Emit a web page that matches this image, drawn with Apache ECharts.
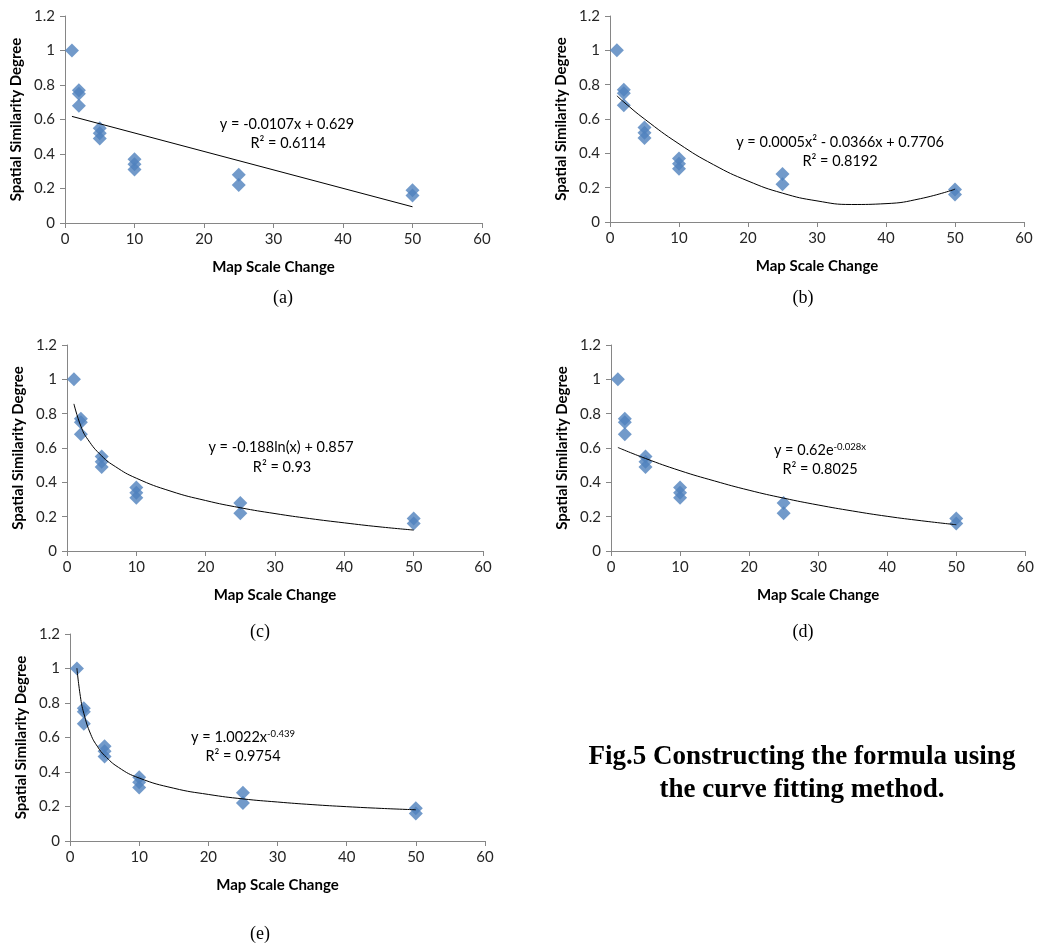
<!DOCTYPE html>
<html>
<head>
<meta charset="utf-8">
<script src="https://cdn.jsdelivr.net/npm/echarts@6/dist/echarts.min.js"></script>
<style>
  html, body { margin: 0; padding: 0; background: #fff; }
  #main { width: 1037px; height: 945px; }
</style>
</head>
<body>
<div id="main"></div>
<script>
// measured points (same data in every panel)
const scaleChange = [1, 2, 2, 2, 5, 5, 5, 10, 10, 10, 25, 25, 50, 50];
const similarity = [1.0, 0.77, 0.75, 0.68, 0.55, 0.52, 0.49, 0.37, 0.34, 0.31, 0.28, 0.22, 0.19, 0.16];

// trendlines
const linX = [1, 50];
const linY = [0.618, 0.094];
const polyX = [1, 2, 5, 10, 15, 20, 25, 30, 35, 40, 45, 50];
const polyY = [0.735, 0.699, 0.600, 0.455, 0.334, 0.239, 0.168, 0.123, 0.102, 0.107, 0.136, 0.191];
const logX = [1, 2, 3, 5, 7, 10, 15, 20, 25, 30, 35, 40, 45, 50];
const logY = [0.857, 0.727, 0.650, 0.554, 0.491, 0.424, 0.348, 0.294, 0.252, 0.218, 0.189, 0.164, 0.141, 0.122];
const expX = [1, 5, 10, 15, 20, 25, 30, 35, 40, 45, 50];
const expY = [0.603, 0.539, 0.468, 0.408, 0.354, 0.308, 0.268, 0.233, 0.202, 0.176, 0.153];
const powX = [1, 1.5, 2, 3, 4, 5, 7, 10, 15, 20, 25, 30, 35, 40, 45, 50];
const powY = [1.002, 0.838, 0.740, 0.618, 0.546, 0.496, 0.427, 0.365, 0.306, 0.270, 0.244, 0.226, 0.211, 0.199, 0.189, 0.181];

const xTicks = [0, 10, 20, 30, 40, 50, 60];
const yTicks = [0, 0.2, 0.4, 0.6, 0.8, 1, 1.2];

const chart = echarts.init(document.getElementById('main'));

const FONT = 'Lato';
const AXIS_COLOR = '#868686';

// panel boxes
const panels = [
  { left: 65, top: 16, width: 417, height: 207, fx: linX, fy: linY, smooth: false },
  { left: 610, top: 16, width: 414, height: 206, fx: polyX, fy: polyY, smooth: true },
  { left: 67, top: 345, width: 416, height: 206, fx: logX, fy: logY, smooth: true },
  { left: 611, top: 345, width: 415, height: 206, fx: expX, fy: expY, smooth: true },
  { left: 70, top: 634, width: 415, height: 207, fx: powX, fy: powY, smooth: true }
];

const zip = (a, b) => a.map((v, i) => [v, b[i]]);

const grids = [], xAxes = [], yAxes = [], series = [];
panels.forEach((p, i) => {
  grids.push({ left: p.left, top: p.top, width: p.width, height: p.height });
  xAxes.push({
    type: 'value', gridIndex: i, min: xTicks[0], max: xTicks[xTicks.length - 1], interval: 10,
    name: 'Map Scale Change', nameLocation: 'middle', nameGap: 37,
    nameTextStyle: { fontFamily: FONT, fontWeight: 'bold', fontSize: 15, color: '#000' },
    axisLine: { lineStyle: { color: AXIS_COLOR } },
    axisTick: { show: true, length: 5, lineStyle: { color: AXIS_COLOR } },
    axisLabel: { fontFamily: FONT, fontSize: 15, color: '#262626', margin: 9 },
    splitLine: { show: false }
  });
  yAxes.push({
    type: 'value', gridIndex: i, min: yTicks[0], max: yTicks[yTicks.length - 1], interval: 0.2,
    name: 'Spatial Similarity Degree', nameLocation: 'middle', nameGap: 41,
    nameTextStyle: { fontFamily: FONT, fontWeight: 'bold', fontSize: 15, color: '#000' },
    axisLine: { show: true, lineStyle: { color: AXIS_COLOR } },
    axisTick: { show: true, length: 5, lineStyle: { color: AXIS_COLOR } },
    axisLabel: { fontFamily: FONT, fontSize: 15, color: '#262626', margin: 10 },
    splitLine: { show: false }
  });
  series.push({
    type: 'scatter', xAxisIndex: i, yAxisIndex: i,
    symbol: 'diamond', symbolSize: [14, 14],
    itemStyle: { color: '#4F81BD' },
    data: zip(scaleChange, similarity), z: 2
  });
  series.push({
    type: 'line', xAxisIndex: i, yAxisIndex: i,
    smooth: p.smooth ? 0.5 : false, showSymbol: false, symbol: 'none',
    lineStyle: { color: '#000', width: 1 },
    data: zip(p.fx, p.fy), z: 3
  });
});

const eqStyle = { fontFamily: FONT, fontSize: 14.5, fill: '#000' };
const sup = { fontFamily: FONT, fontSize: 9.5, verticalAlign: 'top', padding: [0, 0, 6, 0] };
const base = { fontFamily: FONT, fontSize: 14.5 };

function txt(x, y, text, extra) {
  return { type: 'text', x: x, y: y, style: Object.assign({ text: text, align: 'center', verticalAlign: 'middle' }, eqStyle, extra || {}) };
}
function cap(x, y, text) {
  return txt(x, y, text, { fontFamily: 'Liberation Serif', fontSize: 18 });
}

const graphics = [
  txt(287, 124, 'y = -0.0107x + 0.629'),
  txt(288, 143, 'R² = 0.6114'),
  txt(840, 142, 'y = 0.0005x² - 0.0366x + 0.7706'),
  txt(840, 161, 'R² = 0.8192'),
  txt(281, 447, 'y = -0.188ln(x) + 0.857'),
  txt(282, 467, 'R² = 0.93'),
  txt(820, 450, '{b|y = 0.62e}{s|-0.028x}', { rich: { b: base, s: sup } }),
  txt(820, 469, 'R² = 0.8025'),
  txt(243, 737, '{b|y = 1.0022x}{s|-0.439}', { rich: { b: base, s: sup } }),
  txt(243, 756, 'R² = 0.9754'),
  cap(283, 298, '(a)'),
  cap(803, 298, '(b)'),
  cap(260, 632, '(c)'),
  cap(803, 632, '(d)'),
  cap(260, 934, '(e)'),
  txt(802, 757, 'Fig.5 Constructing the formula using', { fontFamily: 'Liberation Serif', fontSize: 27, fontWeight: 'bold' }),
  txt(802, 790, 'the curve fitting method.', { fontFamily: 'Liberation Serif', fontSize: 27, fontWeight: 'bold' })
];

chart.setOption({
  animation: false,
  backgroundColor: '#fff',
  grid: grids,
  xAxis: xAxes,
  yAxis: yAxes,
  series: series,
  graphic: graphics
});
</script>
</body>
</html>
